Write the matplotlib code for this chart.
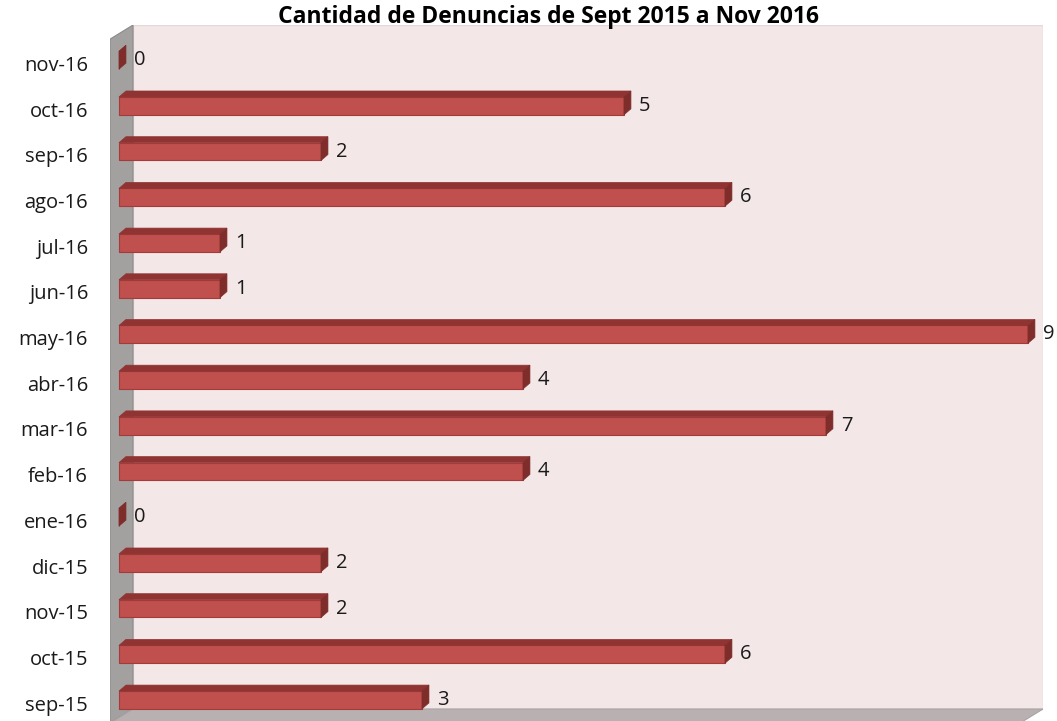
import numpy as np
import matplotlib.pyplot as plt
from matplotlib.patches import Polygon

# data
meses = ['sep-15', 'oct-15', 'nov-15', 'dic-15', 'ene-16', 'feb-16', 'mar-16',
         'abr-16', 'may-16', 'jun-16', 'jul-16', 'ago-16', 'sep-16', 'oct-16', 'nov-16']
denuncias = [3, 6, 2, 2, 0, 4, 7, 4, 9, 1, 1, 6, 2, 5, 0]
titulo = 'Cantidad de Denuncias de Sept 2015 a Nov 2016'

plt.rcParams['font.family'] = ['Open Sans', 'DejaVu Sans']

W, H = 1057, 721
fig = plt.figure(figsize=(W / 100, H / 100), dpi=100)
ax = fig.add_axes([110 / W, 0, (1043 - 110) / W, (721 - 25) / H])

ax.set_xlim(-0.089, 9.149)
ax.set_ylim(-0.46, 14.77)

# walls (3d look)
wall_x0, wall_x1 = 0.139, 9.149
wall_y0, wall_y1 = -0.197, 14.77
side_dx, side_dy = 0.228, 0.31
ax.add_patch(Polygon([(wall_x0, wall_y0), (wall_x1, wall_y0), (wall_x1, wall_y1), (wall_x0, wall_y1)],
                     closed=True, facecolor='#f4e7e8', edgecolor='#e2dada', lw=1, zorder=0))
ax.add_patch(Polygon([(wall_x0 - side_dx, wall_y1 - side_dy), (wall_x0, wall_y1),
                      (wall_x0, wall_y0), (wall_x0 - side_dx, wall_y0 - side_dy)],
                     closed=True, facecolor='#a3a0a0', edgecolor='#8c8a8a', lw=0.8, zorder=1))
ax.add_patch(Polygon([(wall_x0, wall_y0), (wall_x1, wall_y0),
                      (wall_x1 - side_dx, wall_y0 - side_dy), (wall_x0 - side_dx, wall_y0 - side_dy)],
                     closed=True, facecolor='#b9b1b1', edgecolor='#aaa3a3', lw=0.8, zorder=1))

# bars
y = np.arange(len(meses))
h = 0.39
ddx, ddy = 0.069, 0.131
ax.barh(y, denuncias, height=h, color='#c0504d', edgecolor='#a23b39', lw=0.8, zorder=3)
for yi, v in zip(y, denuncias):
    top = yi + h / 2
    bot = yi - h / 2
    ax.add_patch(Polygon([(0, top), (v, top), (v + ddx, top + ddy), (ddx, top + ddy)],
                         closed=True, facecolor='#8f3432', edgecolor='#8f3432', lw=0.5, zorder=3))
    ax.add_patch(Polygon([(v, bot), (v, top), (v + ddx, top + ddy), (v + ddx, bot + ddy)],
                         closed=True, facecolor='#7e2d2b', edgecolor='#7e2d2b', lw=0.5, zorder=3))
    ax.text(v + ddx + 0.08, yi, str(v), va='center', ha='left', fontsize=14.5, color='#1a1a1a', zorder=4)

ax.set_yticks(y - 0.07)
ax.set_yticklabels(meses, fontsize=14.5, color='#1a1a1a')
ax.tick_params(axis='y', length=0, pad=15.8)
ax.set_xticks([])
for s in ax.spines.values():
    s.set_visible(False)
ax.patch.set_alpha(0)

fig.text(548 / W, 1 - 17 / H, titulo, ha='center', va='center', fontsize=16.5, fontweight='bold')

fig.savefig('out.png', dpi=100)
